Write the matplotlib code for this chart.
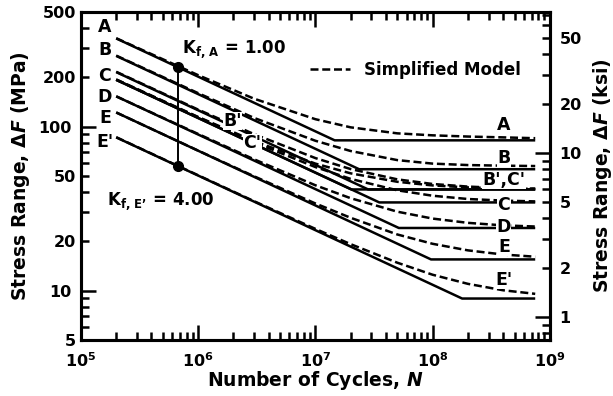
import math
import matplotlib
matplotlib.use("Agg")
import matplotlib.pyplot as plt
from matplotlib.ticker import LogLocator, FuncFormatter, NullFormatter
from matplotlib.lines import Line2D

plt.rcParams['font.family'] = 'DejaVu Sans'
plt.rcParams['font.weight'] = 'bold'
plt.rcParams['axes.labelweight'] = 'bold'
plt.rcParams['mathtext.fontset'] = 'custom'
plt.rcParams['mathtext.rm'] = 'DejaVu Sans:bold'
plt.rcParams['mathtext.bf'] = 'DejaVu Sans:bold'
plt.rcParams['mathtext.it'] = 'DejaVu Sans:italic:bold'

# ---- data (MPa, cycles) ----
categories = ['A', 'B', "B'", "C'", 'C', 'D', 'E', "E'"]
N_first = 2e5
N_last = 7.5e8
start_range = [345, 270, 215, 193, 193, 153, 122, 86]        # MPa at N_first
knee_N = [1.46e7, 2.36e7, 2.82e7, 2.03e7, 3.51e7, 5.15e7, 9.69e7, 1.785e8]
threshold = [82.5, 55.0, 41.4, 41.4, 34.5, 24.1, 15.5, 8.95]

# simplified model (dashed)
model_N = [2e5, 1e6, 3e6, 1e7, 2e7, 5e7, 1e8, 2e8, 4e8, 7.5e8]
model_A = [346, 206, 148, 111, 99, 91, 88.5, 87, 86, 85]
model_B = [271, 160, 113, 82, 71, 62.5, 59.5, 58.3, 57.8, 57.5]
model_Bp = [216, 127, 90, 64.3, 55.1, 47.7, 44.7, 43.1, 42.2, 41.9]
model_Cp = [194, 114.5, 81.6, 59.5, 51.9, 46.1, 43.8, 42.6, 42.0, 41.7]
model_C = [193, 114, 80.2, 56.7, 48.0, 40.9, 37.9, 36.2, 35.4, 35.0]
model_D = [153, 90.2, 63.2, 43.9, 36.6, 30.3, 27.5, 25.9, 25.0, 24.6]
model_E = [122, 71.4, 49.8, 34.0, 27.8, 22.0, 19.3, 17.6, 16.6, 16.1]
model_Ep = [86.2, 50.5, 35.1, 23.8, 19.2, 14.8, 12.5, 11.0, 10.05, 9.56]

# Kf marker line
kf_N = 6.7e5
kf_values = [231, 57.7]

MPA_PER_KSI = 6.895


def only_some(labels):
    # label a minor tick only when it sits on one of the wanted values
    def fmt(v, p):
        for l in labels:
            if abs(v - l) / l < 1e-6:
                return '%d' % l
        return ''
    return FuncFormatter(fmt)


fig = plt.figure(figsize=(6.13, 3.96), dpi=100)
ax = fig.add_axes([0.132, 0.1414, 0.765, 0.8283])

lw = 1.8
dash = (0, (3.2, 1.5))

# solid lines
for s0, nk, th in zip(start_range, knee_N, threshold):
    ax.plot([N_first, nk, N_last], [s0, th, th], color='black', lw=lw,
            solid_capstyle='butt', zorder=3)

# dashed model curves
for ys in [model_A, model_B, model_Bp, model_Cp, model_C, model_D, model_E, model_Ep]:
    ax.plot(model_N, ys, color='black', lw=lw, linestyle=dash, zorder=3)

# Kf vertical line with dots
ax.plot([kf_N, kf_N], kf_values, color='black', lw=1.4, marker='o',
        markersize=7, zorder=4)

ax.set_xscale('log')
ax.set_yscale('log')
ax.set_xlim(1e5, 1e9)
ax.set_ylim(5, 500)

# ticks
ax.xaxis.set_major_locator(LogLocator(base=10, subs=(1.0,)))
ax.xaxis.set_minor_locator(LogLocator(base=10, subs=range(2, 10)))
ax.xaxis.set_major_formatter(FuncFormatter(lambda v, p: r'$\mathrm{10^{%d}}$' % round(math.log10(v))))
ax.xaxis.set_minor_formatter(NullFormatter())

ax.yaxis.set_major_locator(LogLocator(base=10, subs=(1.0,)))
ax.yaxis.set_minor_locator(LogLocator(base=10, subs=range(2, 10)))
ax.yaxis.set_major_formatter(FuncFormatter(lambda v, p: '%d' % round(v)))
ax.yaxis.set_minor_formatter(only_some([5, 20, 50, 200, 500]))

ax.tick_params(which='both', direction='in', top=True, right=False, width=1.8,
               labelsize=11.5)
ax.tick_params(which='major', length=11)
ax.tick_params(which='minor', length=6)
ax.tick_params(axis='y', pad=7)
ax.tick_params(axis='x', pad=8)
for sp in ax.spines.values():
    sp.set_linewidth(2.2)

# right axis in ksi
ax2 = ax.twinx()
ax2.set_yscale('log')
ax2.set_ylim(5 / MPA_PER_KSI, 500 / MPA_PER_KSI)
ax2.yaxis.set_major_locator(LogLocator(base=10, subs=(1.0,)))
ax2.yaxis.set_minor_locator(LogLocator(base=10, subs=range(2, 10)))
ax2.yaxis.set_major_formatter(FuncFormatter(lambda v, p: '%d' % round(v)))
ax2.yaxis.set_minor_formatter(only_some([2, 5, 20, 50]))
ax2.tick_params(which='both', direction='in', width=1.8, labelsize=11.5, pad=7)
ax2.tick_params(which='major', length=11)
ax2.tick_params(which='minor', length=6)
for sp in ax2.spines.values():
    sp.set_linewidth(2.2)

# axis labels
ax.set_xlabel(r'Number of Cycles, $\mathit{N}$', fontsize=13.5)
ax.set_ylabel(r'Stress Range, $\Delta\mathit{F}$ (MPa)', fontsize=13.5)
ax2.set_ylabel(r'Stress Range, $\Delta\mathit{F}$ (ksi)', fontsize=13.5)
ax.xaxis.set_label_coords(0.499, -0.088)
ax.yaxis.set_label_coords(-0.104, 0.5)
ax2.yaxis.set_label_coords(1.088, 0.5)

# category labels
lab_kw = dict(fontsize=12.5, ha='center', va='center', zorder=5,
              bbox=dict(facecolor='white', edgecolor='none', pad=0.3))
left_N = 1.6e5
left_pos = [('A', 405), ('B', 293), ('C', 204), ('D', 152), ('E', 113), ("E'", 80.6)]
for t, y in left_pos:
    ax.text(left_N, y, t, **lab_kw)
right_N = 4.05e8
right_pos = [('A', 102), ('B', 64.4), ("B',C'", 47.3), ('C', 33.3), ('D', 24.4),
             ('E', 18.5), ("E'", 11.6)]
for t, y in right_pos:
    ax.text(right_N, y, t, **lab_kw)
ax.text(1.95e6, 108, "B'", **lab_kw)
ax.text(2.9e6, 79.5, "C'", **lab_kw)

# Kf annotations
ax.text(7.3e5, 280, r'$\mathrm{K_{f,\,A}}$ = 1.00', fontsize=12, ha='left',
        va='baseline')
ax.text(1.67e5, 33.3, '$\\mathrm{K_{f,\\,E\u2019}}$ = 4.00', fontsize=12,
        ha='left', va='baseline')

# legend
h = Line2D([], [], color='black', lw=lw, linestyle=dash)
ax.legend([h], ['Simplified Model'], loc='center right', frameon=False,
          bbox_to_anchor=(0.955, 0.823), borderpad=0, handlelength=2.4,
          handletextpad=0.8, prop=dict(size=12, weight='bold'))

fig.savefig('out.png', dpi=100)
